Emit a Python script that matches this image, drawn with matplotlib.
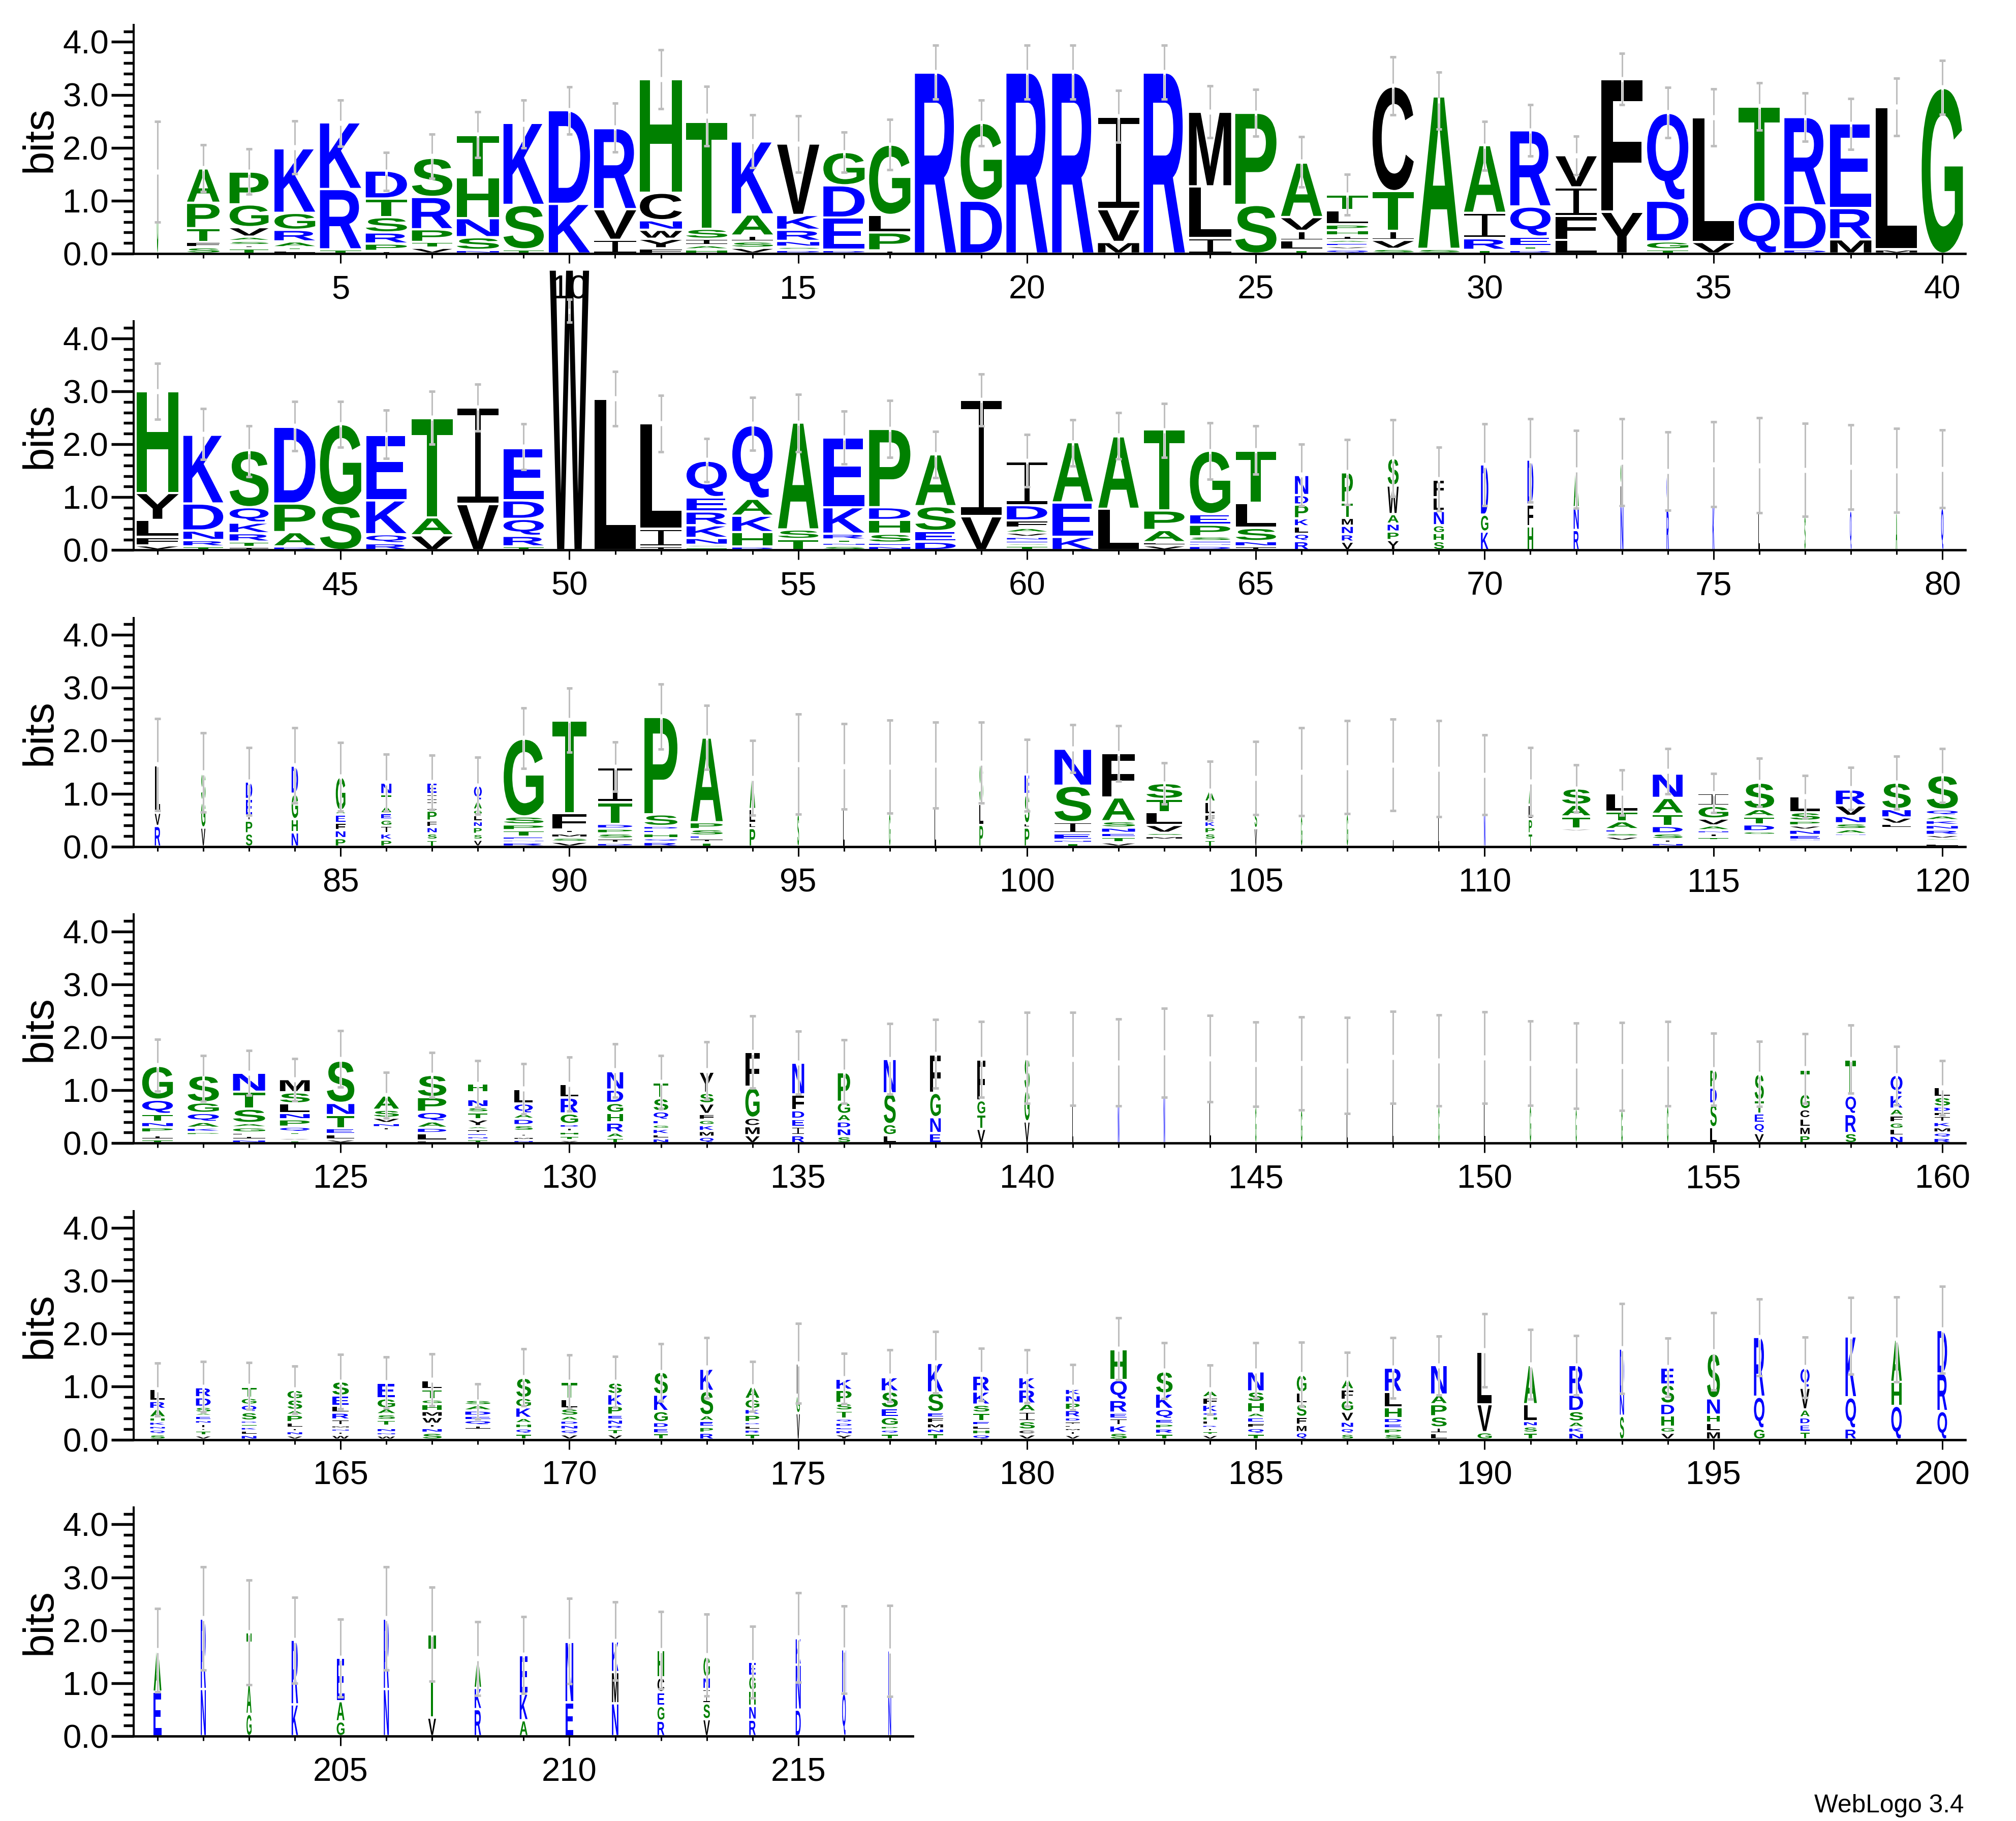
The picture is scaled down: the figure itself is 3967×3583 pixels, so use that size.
import matplotlib
matplotlib.use("Agg")
import matplotlib.pyplot as plt
from matplotlib.font_manager import FontProperties
from matplotlib.patches import PathPatch
from matplotlib.path import Path
from matplotlib.textpath import TextPath
from matplotlib.transforms import Affine2D
from matplotlib.ticker import MultipleLocator

plt.rcParams['font.family'] = ['Liberation Sans', 'DejaVu Sans']

# each stack runs bottom to top, letter then height in bits, _ is an empty slot
stacks_1 = [
    "G1.55", "S.12 F.10 T.26 P.48 A.65", "T.10 I.06 S.08 A.08 V.18 G.43 P.62", "L.06 T.06 A.11 R.22 G.32 K1.22",
    "T.08 R1.14 K1.26", "I.05 P.14 R.21 S.29 T.35 D.53", "V.11 T.11 P.24 R.61 S.74", "N.07 S.24 N.36 H.77 T.80",
    "T.08 S.84 K1.55", "K.94 D1.77", "I.26 V.58 R1.53", "F.10 Y.18 W.17 N.18 C.52 H2.15",
    "H.08 A.08 I.12 S.19 T2.02", "V.11 S.12 I.11 A.40 K1.38", "D.07 S.06 N.11 R.21 K.28 V1.35", "D.07 E.61 D.61 G.63",
    "I.06 P.34 L.33 G1.33", "R3.42", "D1.00 G1.47", "R3.42",
    "R3.42", "M.22 V.62 I1.75", "R3.42", "I.29 L.98 M1.41",
    "S.92 P1.74", "T.07 L.18 I.18 V.26 A1.03", "Q.08 V.06 E.06 A.06 I.08 H.10 P.11 L.27 T.30", "S.09 V.17 I.17 T.75 C1.98",
    "S.09 A2.88", "T.07 R.22 I.48 A1.28", "D.07 T.07 E.18 Q.57 R1.44", "L.26 F.45 I.54 V.61",
    "Y.79 F2.51", "T.08 G.15 D.77 Q1.66", "V.22 L2.36", "Q.98 T1.80",
    "D.08 D.83 R1.67", "M.27 R.59 E1.60", "M.08 L2.69", "G3.13",
]
stacks_2 = [
    "V.09 F.16 L.32 Y.51 H1.92", "T.07 R.12 N.18 D.51 K1.30", "I.06 T.10 R.16 K.20 Q.29 S1.08", "D.07 A.27 P.54 D1.45",
    "S.84 G1.54", "R.13 Q.17 K.64 E1.24", "V.28 A.34 T1.87", "V.87 I1.82",
    "T.07 R.20 Q.32 D.35 E.99", "W5.30", "L2.86", "I.07 I.33 L2.00",
    "T.05 S.05 N.13 K.24 R.26 E.27 Q.69", "D.07 H.27 K.31 A.32 Q1.39", "T.21 S.18 A2.02", "S.08 N.06 T.06 R.11 K.50 E1.32",
    "N.08 E.06 S.17 H.26 D.24 P1.48", "D.16 E.20 S.47 A.98", "V.64 I2.20", "T.08 S.05 E.05 N.07 V.08 A.09 F.14 D.29 I.83",
    "K.25 E.65 A1.14", "L.78 A1.37", "V.09 L.06 A.23 P.37 T1.53", "D.08 N.05 E.04 S.09 P.22 E.20 G1.20",
    "I.07 N.10 S.25 L.47 T.99", "R.17 Q.14 L.14 K.15 P.26 D.18 N.38", "V.16 R.14 N.16 M.15 T.29 P.57", "Y.19 P.16 N.15 A.18 W.54 S.52",
    "S.17 H.15 G.15 N.27 L.26 F.33", "K.35 G.32 D.95", "H.45 F.41 D.85", "R.38 N.43 A.69",
    "N.83 L.40 G.43", "R.75 Q.72", "K.82 L.80", "L.70 T.90",
    "S.64 G.83", "Q.75 N.82", "A.70 N.80", "Q.80 L.74",
]
stacks_3 = [
    "R.39 V.25 L.90", "V.36 G.50 S.54", "S.25 P.24 I.09 E.32 D.33", "N.27 H.25 G.48 D.53",
    "P.16 N.15 F.14 E.16 A.07 G.64", "P.13 K.12 I.14 G.12 E.12 A.13 T.23 N.22", "T.13 S.12 N.12 F.12 P.19 I.18 I.13 E.22", "V.13 S.11 P.13 N.11 L.12 G.10 A.17 Q.29",
    "R.08 N.05 E.06 T.12 P.11 S.15 G1.47", "V.09 S.08 M.08 I.07 F.31 T1.75", "D.07 I.08 S.10 P.09 D.09 T.41 I.66", "R.09 Q.07 H.09 E.07 D.07 S.22 P1.84",
    "T.08 I.07 E.06 S.12 P.13 A1.60", "P.35 L.10 L.26 A.61", "S.61 G.95", "L.71 N.82",
    "G.63 S.89", "L.73 L.80", "P.41 L.40 S.77", "P.36 L.08 S.55 E.37",
    "T.07 N.06 E.12 I.21 S.69 N.70", "V.08 T.10 E.08 N.10 S.12 A.45 F.84", "_.13 M.07 S.06 V.15 L.24 T.25 S.30", "T.13 S.12 P.12 K.11 F.13 L.24 A.20",
    "V.35 S.35 L.30 A.29", "G.58 S.83", "G.62 A.88", "L.68 L.86",
    "L.56 I.91", "N.60 A.75", "T.25 P.27 L.27 A.41", "_.29 V.05 T.23 A.22 S.31",
    "_.11 V.08 S.07 E.07 A.15 T.18 L.35", "N.07 I.07 S.11 D.14 T.23 A.30 N.46", "_.12 T.06 I.07 N.06 A.09 V.13 G.24 I.24", "_.22 G.07 D.13 T.15 A.14 S.50",
    "_.10 N.03 E.09 N.10 V.08 P.09 S.16 L.30", "_.20 N.04 A.09 S.11 N.14 V.20 R.30", "_.30 T.05 L.08 V.12 N.16 S.50", "L.06 T.05 G.04 V.07 R.10 N.09 K.09 A.09 Q.11 S.65",
]
stacks_4 = [
    "T.07 I.08 L.05 P.10 N.10 T.15 Q.27 G.64", "_.15 P.06 K.08 A.11 Q.17 G.20 S.51", "N.07 I.07 L.06 G.10 A.08 S.27 T.32 N.36", "T.05 V.05 I.05 T.06 Q.10 P.14 N.12 L.18 S.21 M.25",
    "V.07 L.10 E.11 T.25 N.23 S.80", "_.24 I.06 N.08 V.10 S.15 A.27", "F.05 L.14 D.10 A.12 Q.18 P.28 S.42", "T.07 N.06 E.06 I.07 A.06 Y.13 T.13 S.10 N.15 I.13 H.17",
    "N.06 M.06 I.06 T.05 S.11 D.12 A.10 Q.19 L.27", "V.06 T.08 H.08 I.07 D.07 G.20 R.30 L.26", "T.10 A.10 R.19 H.18 G.19 D.25 N.35", "N.09 L.08 K.10 G.08 E.09 Q.16 S.25 T.30",
    "Q.12 M.11 K.11 G.10 F.11 V.20 S.20 Y.40", "V.15 M.17 C.16 G.58 F.66", "R.15 I.16 E.15 D.16 F.30 N.60", "S.13 N.15 D.13 A.14 G.23 P.56",
    "L.15 G.21 S.58 N.65", "E.19 N.30 G.46 F.73", "V.27 T.27 G.27 F.77", "V.41 G.60 S.60",
    "L.71 L.92", "N.70 A.82", "N.87 L.84", "L.78 N.82",
    "G.69 N.80", "G.63 S.87", "L.56 I.91", "L.75 L.87",
    "G.70 S.86", "L.75 G.87", "G.71 L.80", "G.65 A.81",
    "G.62 L.83", "G.70 N.80", "L.30 S.45 D.30 P.34", "V.19 Q.19 E.18 T.25 S.50",
    "P.15 M.16 L.16 C.17 G.29 T.46", "S.19 R.36 Q.35 T.68", "N.14 L.13 G.12 F.13 A.13 K.26 Q.38", "R.10 Q.10 M.10 K.10 I.11 F.08 D.10 S.18 L.19",
]
stacks_5 = [
    "S.10 Q.09 N.07 K.08 H.08 A.16 R.15 L.23", "V.08 T.09 I.04 I.09 N.07 E.08 A.06 S.11 D.18 R.19", "N.09 L.08 K.07 H.06 D.06 S.16 Q.14 G.13 T.21", "V.08 N.08 I.06 L.11 P.14 A.09 S.20 G.18",
    "W.09 I.06 N.06 M.06 I.11 R.13 L.13 E.19 S.27", "W.08 N.06 N.08 I.04 T.11 S.11 A.11 G.19 E.29", "S.13 N.09 I.08 W.13 M.11 H.13 G.09 T.19 L.17", "_.19 I.08 Q.10 E.08 D.10 A.10 S.10",
    "T.11 Q.10 H.10 A.10 K.20 G.18 S.38", "V.10 Q.09 N.09 D.08 A.09 S.14 L.18 T.32", "V.10 T.10 R.08 N.10 E.09 P.17 K.22 S.22", "T.12 E.10 D.11 G.21 K.31 S.43",
    "R.13 P.11 E.11 A.11 S.46 K.42", "T.11 R.08 L.08 D.06 P.14 K.11 G.19 A.23", "V.50 G.35 L.59", "Y.10 N.08 E.06 D.08 Q.08 T.15 S.14 P.25 K.21",
    "T.11 Q.08 P.07 G.17 E.16 S.32 K.27", "T.12 N.09 M.10 F.11 E.10 S.37 K.56", "Q.10 H.09 L.08 E.08 T.16 S.15 K.25 R.30", "V.10 C.09 S.16 I.18 A.15 R.27 K.23",
    "V.09 I.07 M.06 L.06 I.06 D.08 R.14 P.14 N.14 K.12", "S.13 K.14 I.13 E.11 R.24 Q.38 H.58", "T.11 R.10 P.09 E.09 Q.19 K.29 S.42", "V.09 T.07 I.06 R.06 L.08 H.08 Q.08 K.14 F.14 A.13",
    "T.11 Q.11 F.10 E.10 A.09 H.20 S.20 N.38", "Q.14 M.14 F.15 S.25 L.21 G.34", "S.11 Q.11 N.12 V.19 G.22 F.20 A.19", "S.11 P.10 E.10 D.10 H.20 L.29 R.46",
    "L.12 I.11 S.21 P.23 A.18 N.56", "G.14 V.53 L.99", "T.13 S.12 N.10 L.32 A.74", "N.13 K.10 A.11 S.20 D.31 R.56",
    "S.45 N.42 D.85", "V.13 G.11 H.22 D.22 S.36 E.32", "M.16 L.16 H.15 N.31 S.85", "G.21 Q.60 R1.13",
    "T.15 E.14 D.13 A.15 V.41 Q.38", "R.21 Q.59 K1.15", "Q.64 H.45 A.80", "Q.54 R.71 D.82",
]
stacks_6 = [
    "E.84 A.78", "N.89 R1.33", "G.42 A.55 T.99", "K.60 R1.22",
    "G.28 A.38 E.82", "N.89 R1.33", "V.35 T1.57", "R.51 K.40 A.55",
    "A.30 K.50 E.73", "E.64 N1.14", "N.62 M.59 K.58", "R.29 G.28 E.26 C.28 H.52",
    "V.32 S.30 I.27 N.22 G.40", "R.31 N.26 H.29 G.28 E.26", "D.50 N.85 K.50", "Q.81 N.83",
    "N.75 N.87",
]

# error bar ends in bits
err_hi_1 = [2.50, 2.05, 1.98, 2.51, 2.90, 1.91, 2.26, 2.68, 2.90, 3.15, 2.84, 3.85, 3.16, 2.62, 2.60, 2.29, 2.53, 3.94, 2.90, 3.94,
            3.94, 3.08, 3.94, 3.17, 3.10, 2.21, 1.50, 3.72, 3.43, 2.50, 2.81, 2.22, 3.78, 3.14, 3.11, 3.23, 3.03, 2.93, 3.31, 3.65]
err_lo_1 = [.60, 1.17, 1.12, 1.51, 2.03, 1.19, 1.42, 1.81, 2.00, 2.26, 1.92, 2.74, 2.04, 1.62, 1.54, 1.54, 1.58, 2.92, 2.04, 2.92,
            2.92, 2.10, 2.92, 2.19, 2.22, 1.26, .73, 2.62, 2.35, 1.57, 1.84, 1.49, 2.81, 2.19, 2.04, 2.33, 2.12, 1.97, 2.23, 2.63]
err_hi_2 = [3.53, 2.67, 2.35, 2.81, 2.81, 2.64, 3.00, 3.13, 2.38, 4.74, 3.37, 2.92, 2.11, 2.88, 2.94, 2.62, 2.83, 2.24, 3.33, 2.18,
            2.46, 2.60, 2.77, 2.40, 2.35, 2.00, 2.09, 2.46, 1.94, 2.38, 2.48, 2.26, 2.48, 2.23, 2.42, 2.50, 2.39, 2.37, 2.30, 2.27]
err_lo_2 = [2.47, 1.71, 1.39, 1.88, 1.94, 1.73, 2.00, 2.25, 1.52, 4.30, 2.35, 1.86, 1.29, 1.89, 1.86, 1.63, 1.75, 1.37, 2.35, 1.19,
            1.59, 1.72, 1.75, 1.34, 1.43, .84, .86, 1.01, .74, .84, .91, .79, .84, .75, .82, .70, .64, .77, .71, .80]
err_hi_3 = [2.42, 2.15, 1.87, 2.24, 1.97, 1.75, 1.73, 1.69, 2.62, 2.99, 1.98, 3.07, 2.67, 2.00, 2.50, 2.32, 2.39, 2.35, 2.35, 2.02,
            2.30, 2.28, 1.58, 1.61, 1.99, 2.24, 2.38, 2.41, 2.38, 2.11, 1.87, 1.54, 1.45, 1.85, 1.38, 1.67, 1.34, 1.50, 1.71, 1.85]
err_lo_3 = [.68, .65, .59, .82, .67, .67, .70, .61, 1.48, 1.78, 1.04, 1.84, 1.46, .59, .61, .71, .63, .73, .82, .67,
            1.40, 1.24, .80, .50, .60, .58, .62, .68, .56, .60, .58, .65, .59, 1.00, .64, .76, .55, .70, .71, .83]
err_hi_4 = [1.96, 1.65, 1.75, 1.60, 2.12, 1.34, 1.71, 1.56, 1.50, 1.62, 1.87, 1.65, 1.91, 2.40, 2.11, 1.95, 2.26, 2.33, 2.30, 2.47,
            2.47, 2.34, 2.55, 2.41, 2.29, 2.38, 2.37, 2.49, 2.42, 2.48, 2.31, 2.27, 2.28, 2.30, 2.08, 1.92, 2.07, 2.23, 1.83, 1.56]
err_lo_4 = [.98, .79, .90, .80, 1.06, .47, .87, .67, .55, .61, .87, .65, .83, 1.04, .92, .75, .92, 1.04, .87, .75,
            .71, .70, .87, .78, .69, .63, .56, .75, .70, .75, .71, .65, .62, .70, .71, .69, .75, .94, .72, .53]
err_hi_5 = [1.45, 1.47, 1.46, 1.39, 1.61, 1.56, 1.62, 1.05, 1.71, 1.60, 1.57, 1.81, 1.93, 1.47, 2.19, 1.63, 1.70, 2.04, 1.72, 1.70,
            1.42, 2.30, 1.83, 1.41, 1.83, 1.84, 1.65, 1.93, 1.95, 2.38, 2.08, 1.96, 2.57, 1.92, 2.40, 2.66, 1.94, 2.68, 2.69, 2.90]
err_lo_5 = [.45, .52, .57, .50, .58, .60, .64, .39, .64, .59, .61, .73, .78, .53, .69, .68, .72, .88, .74, .70,
            .56, 1.13, .77, .48, .78, .63, .63, .78, .84, .99, .76, .84, .87, .81, .94, 1.21, .79, 1.23, 1.09, 1.25]
err_hi_6 = [2.41, 3.20, 2.95, 2.62, 2.21, 3.20, 2.81, 2.16, 2.26, 2.60, 2.53, 2.35, 2.30, 2.07, 2.71, 2.46, 2.47]
err_lo_6 = [.84, 1.25, .97, 1.00, .74, 1.25, 1.04, .77, .81, .99, 1.06, .89, .76, .72, 1.02, .81, .75]

# glyph width as a share of one column
widths_1 = [.03, .71, .85, .89, .90, .90, .88, .92, .88, .90, .92, .92, .90, .90, .92, .90, .90, .90, .90, .90,
            .90, .90, .90, .92, .90, .90, .90, .90, .90, .90, .88, .90, .90, .90, .90, .90, .90, .90, .90, .90]
widths_2 = [.92, .87, .85, .90, .90, .88, .90, .90, .88, .86, .90, .90, .88, .88, .88, .90, .90, .88, .88, .88,
            .88, .88, .88, .88, .88, .29, .24, .24, .22, .16, .13, .11, .06, .05, .04, .03, .025, .035, .03, .05]
widths_3 = [.12, .09, .14, .14, .21, .22, .20, .17, .87, .75, .75, .72, .70, .12, .035, .03, .03, .03, .08, .10,
            .80, .72, .78, .20, .05, .03, .03, .015, .02, .03, .07, .62, .68, .65, .65, .65, .65, .65, .62, .68]
widths_4 = [.67, .68, .70, .65, .60, .55, .62, .42, .40, .38, .35, .32, .30, .31, .26, .27, .26, .23, .17, .11,
            .025, .03, .03, .03, .025, .03, .02, .025, .025, .03, .03, .025, .03, .03, .14, .20, .20, .23, .26, .34]
widths_5 = [.32, .32, .32, .32, .36, .38, .42, .55, .32, .35, .30, .30, .28, .30, .07, .33, .35, .33, .35, .34,
            .30, .36, .36, .30, .34, .21, .25, .36, .34, .31, .28, .30, .09, .28, .28, .23, .20, .23, .23, .21]
widths_6 = [.17, .11, .11, .14, .17, .11, .17, .14, .17, .17, .14, .15, .14, .14, .11, .08, .06]

stacks = [stacks_1, stacks_2, stacks_3, stacks_4, stacks_5, stacks_6]
err_hi = [err_hi_1, err_hi_2, err_hi_3, err_hi_4, err_hi_5, err_hi_6]
err_lo = [err_lo_1, err_lo_2, err_lo_3, err_lo_4, err_lo_5, err_lo_6]
widths = [widths_1, widths_2, widths_3, widths_4, widths_5, widths_6]

y_ticks = [0, 1, 2, 3, 4]
y_max = 4.32
col_px = 90.05
first_col_px = 310
left_px = 263
top_px = 49
row_step = 583.4
row_height = 450
W, H = 3967, 3583
DPI = 100

colors = {}
for c in "RKDENQ":
    colors[c] = "#0000ff"
for c in "SGHTAP":
    colors[c] = "#008000"
for c in "YVMCLFIW":
    colors[c] = "#000000"

bold = FontProperties(family="Liberation Sans", weight="bold")


def serif_i():
    # the logo's I has thin stem and two bars, no installed font has it that thin
    a, b = 0.435, 0.565
    t = 0.07
    verts = [(0, 0), (1, 0), (1, t), (b, t), (b, 1 - t), (1, 1 - t), (1, 1),
             (0, 1), (0, 1 - t), (a, 1 - t), (a, t), (0, t), (0, 0)]
    codes = [Path.MOVETO] + [Path.LINETO] * 11 + [Path.CLOSEPOLY]
    return Path(verts, codes)


def draw_letter(ax, c, x, y0, w, h, pad):
    # squash the glyph into its box, logo style
    tp = serif_i() if c == "I" else TextPath((0, 0), c, size=1, prop=bold)
    bb = tp.get_extents()
    top = y0 + h - pad
    bottom = y0 + pad
    if top <= bottom:
        top = bottom + 0.005
    tr = (Affine2D().translate(-bb.x0, -bb.y0)
          .scale(w / bb.width, (top - bottom) / bb.height)
          .translate(x - w / 2, bottom))
    ax.add_patch(PathPatch(tp, transform=tr + ax.transData, facecolor=colors[c],
                           edgecolor="none", lw=0, clip_on=False, zorder=3))


def draw_row(fig, i):
    n = len(stacks[i])
    start = 40 * i + 1
    bottom_px = H - (top_px + row_step * i + row_height)
    ax_w = first_col_px + col_px * (n - 0.5) - left_px
    ax = fig.add_axes([left_px / W, bottom_px / H, ax_w / W, row_height / H])
    ax.set_xlim(start - (first_col_px - left_px) / col_px, start + n - 0.5)
    ax.set_ylim(0, y_max)
    ax.patch.set_alpha(0)

    pad = 2.3 / (row_height / y_max)
    gap = 5 / (row_height / y_max)
    for j, s in enumerate(stacks[i]):
        x = start + j
        y = 0
        for item in s.split():
            h = float(item[1:])
            if item[0] != "_":
                draw_letter(ax, item[0], x, y, widths[i][j], h, pad)
            y += h
        lo, hi = err_lo[i][j], err_hi[i][j]
        mid = (lo + hi) / 2
        ax.plot([x, x], [lo, hi], color="white", lw=3.6, solid_capstyle="butt", clip_on=False, zorder=4)
        ax.plot([x, x], [lo, mid - gap], color="#bebebe", lw=2.2, solid_capstyle="butt", clip_on=False, zorder=5)
        ax.plot([x, x], [mid + gap, hi], color="#bebebe", lw=2.2, solid_capstyle="butt", clip_on=False, zorder=5)
        for end in (lo, hi):
            ax.plot([x - 0.065, x + 0.065], [end, end], color="#bebebe", lw=3.6,
                    solid_capstyle="butt", clip_on=False, zorder=5)

    ax.set_yticks(y_ticks)
    ax.set_yticklabels(["%.1f" % t for t in y_ticks])
    ax.yaxis.set_minor_locator(MultipleLocator(0.2))
    ax.tick_params(axis="y", which="major", length=31.7, width=3.9, labelsize=47, pad=3.6)
    ax.tick_params(axis="y", which="minor", length=14.4, width=3.9)

    ax.set_xticks([t for t in range(start, start + n) if t % 5 == 0])
    ax.set_xticks(range(start, start + n), minor=True)
    ax.tick_params(axis="x", which="major", length=13.7, width=2.2, labelsize=47, pad=16)
    ax.tick_params(axis="x", which="minor", length=6.8, width=2.2)

    for side in ("top", "right"):
        ax.spines[side].set_visible(False)
    ax.spines["left"].set_linewidth(2.9)
    ax.spines["bottom"].set_linewidth(3.4)

    ax.set_ylabel("bits", fontsize=60)
    ax.yaxis.set_label_coords((118 - left_px) / ax_w, 0.5)


fig = plt.figure(figsize=(W / DPI, H / DPI), dpi=DPI, facecolor="white")
for i in range(6):
    draw_row(fig, i)
fig.text(3865 / W, 1 - 3566 / H, "WebLogo 3.4", fontsize=35.7, ha="right", va="baseline")
fig.savefig("out.png", dpi=DPI)
